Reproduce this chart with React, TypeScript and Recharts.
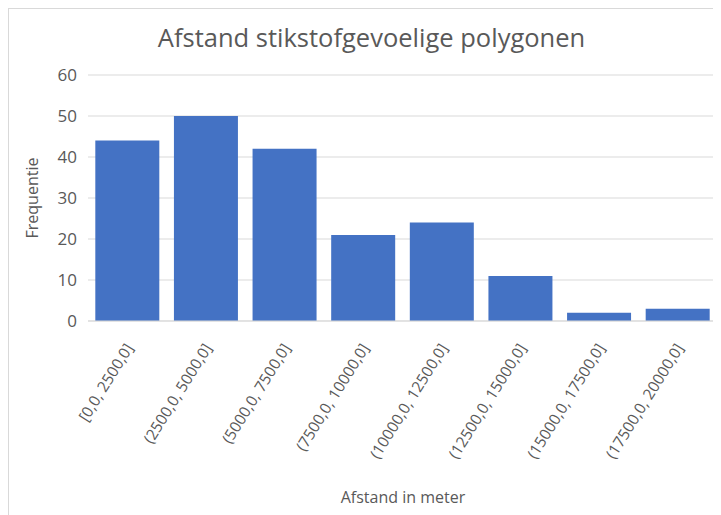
import { Bar, BarChart, CartesianGrid, XAxis, YAxis } from 'recharts';

const categories = [
  '[0,0, 2500,0]',
  '(2500,0, 5000,0]',
  '(5000,0, 7500,0]',
  '(7500,0, 10000,0]',
  '(10000,0, 12500,0]',
  '(12500,0, 15000,0]',
  '(15000,0, 17500,0]',
  '(17500,0, 20000,0]',
];
const frequencies = [44, 50, 42, 21, 24, 11, 2, 3];
const yTicks = [0, 10, 20, 30, 40, 50, 60];

const data = categories.map((name, i) => ({ name, value: frequencies[i] }));

const FONT = '"Open Sans", sans-serif';
const TEXT = '#595959';

function AngledTick({ x, y, payload }: any) {
  return (
    <g transform={`translate(${x + 2},${y + 16})`}>
      <text
        x={0}
        y={0}
        dy="0.35em"
        textAnchor="end"
        transform="rotate(-58)"
        fill={TEXT}
        fontSize={15.5}
        fontFamily={FONT}
      >
        {payload.value}
      </text>
    </g>
  );
}

export default function App() {
  return (
    <div
      style={{
        position: 'relative',
        width: 712,
        height: 506,
        borderLeft: '1px solid #d9d9d9',
        borderTop: '1px solid #d9d9d9',
        background: '#fff',
        fontFamily: FONT,
      }}
    >
      <div
        style={{
          position: 'absolute',
          top: 11,
          left: 0,
          width: 725,
          textAlign: 'center',
          fontSize: 25.5,
          color: TEXT,
        }}
      >
        Afstand stikstofgevoelige polygonen
      </div>
      <div
        style={{
          position: 'absolute',
          top: 477,
          left: 79,
          width: 630,
          textAlign: 'center',
          fontSize: 16,
          color: TEXT,
        }}
      >
        Afstand in meter
      </div>
      <div
        style={{
          position: 'absolute',
          left: 23,
          top: 189,
          transform: 'translate(-50%, -50%) rotate(-90deg)',
          fontSize: 16,
          color: TEXT,
          whiteSpace: 'nowrap',
        }}
      >
        Frequentie
      </div>
      <BarChart
        width={712}
        height={506}
        data={data}
        margin={{ top: 66, right: 4, left: 0, bottom: 44 }}
        barCategoryGap="9.3%"
      >
        <CartesianGrid vertical={false} stroke="#d9d9d9" />
        <XAxis
          dataKey="name"
          interval={0}
          height={150}
          tickLine={false}
          axisLine={{ stroke: '#d9d9d9' }}
          tick={<AngledTick />}
        />
        <YAxis
          width={79}
          domain={[0, 60]}
          ticks={yTicks}
          axisLine={false}
          tickLine={false}
          tickMargin={5}
          tick={{ fill: TEXT, fontSize: 17, fontFamily: FONT }}
        />
        <Bar dataKey="value" fill="#4472C4" isAnimationActive={false} />
      </BarChart>
    </div>
  );
}
